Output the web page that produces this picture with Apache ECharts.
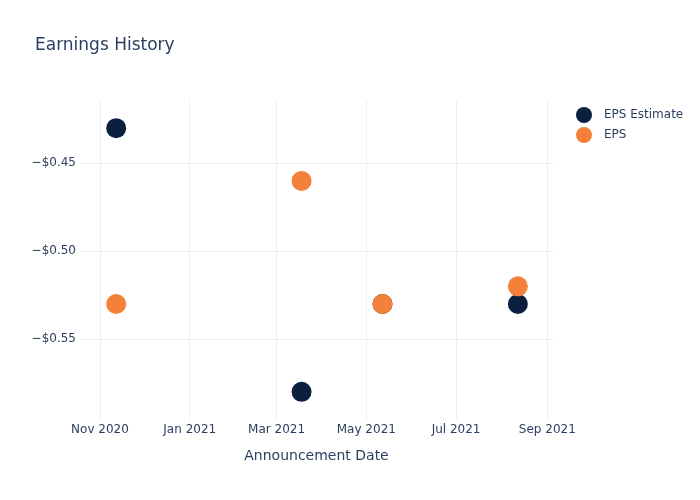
<!DOCTYPE html>
<html><head><meta charset="utf-8">
<script src="https://cdn.jsdelivr.net/npm/echarts@6/dist/echarts.min.js"></script>
<style>html,body{margin:0;padding:0;background:#fff}#c{width:700px;height:500px}</style>
</head><body><div id="c"></div>
<script>
var dates = ['2020-11-12', '2021-03-18', '2021-05-12', '2021-08-12'];
var epsEstimate = [-0.43, -0.58, -0.53, -0.53];
var eps = [-0.53, -0.46, -0.53, -0.52];
var months = ['Jan','Feb','Mar','Apr','May','Jun','Jul','Aug','Sep','Oct','Nov','Dec'];
var FONT = 'DejaVu Sans';
var TXT = '#2a3f5f';
var GRID = '#EBF0F8';
var NONE = 'rgba(0,0,0,0)';
function pairs(vals){ return dates.map(function(d,i){ return [d, vals[i]]; }); }
var chart = echarts.init(document.getElementById('c'));
chart.setOption({
  animation: false,
  backgroundColor: '#fff',
  title: { text: 'Earnings History', left: 30, top: 32, textStyle: { fontFamily: FONT, fontSize: 17, fontWeight: 'normal', color: TXT } },
  legend: {
    orient: 'vertical', left: 571, top: 102, itemGap: 4, itemWidth: 16, itemHeight: 16,
    icon: 'circle',
    textStyle: { fontFamily: FONT, fontSize: 12, color: TXT, padding: [0,0,0,7] },
    data: ['EPS Estimate', 'EPS']
  },
  grid: { left: 80, right: 147, top: 100, bottom: 80, containLabel: false },
  xAxis: {
    type: 'time',
    min: '2020-10-18T10:00:00', max: '2021-09-04T21:00:00',
    name: 'Announcement Date', nameLocation: 'middle', nameGap: 29,
    nameTextStyle: { fontFamily: FONT, fontSize: 14, color: TXT },
    axisLine: { show: false }, axisTick: { show: false },
    axisLabel: { fontFamily: FONT, fontSize: 12, color: TXT, margin: 4, showMinLabel: false, showMaxLabel: false,
      formatter: function(v){ var d = new Date(v); if (d.getDate() !== 1 || d.getMonth() % 2 === 1) return ''; return months[d.getMonth()] + ' ' + d.getFullYear(); } },
    splitLine: { show: true, lineStyle: { color: [NONE, GRID], width: 1 } }
  },
  yAxis: {
    type: 'value', min: -0.596, max: -0.414, splitNumber: 4,
    axisLine: { show: false }, axisTick: { show: false },
    axisLabel: { fontFamily: FONT, fontSize: 12, color: TXT, margin: 4, padding: [2,0,0,0], showMinLabel: false, showMaxLabel: false,
      formatter: function(v){ return (v < 0 ? '\u2212' : '') + '$' + Math.abs(v).toFixed(2); } },
    splitLine: { show: true, lineStyle: { color: [NONE, GRID, GRID, GRID], width: 1 } }
  },
  series: [
    { name: 'EPS Estimate', type: 'scatter', symbolSize: 20, itemStyle: { color: '#0B1F3F', opacity: 1 }, data: pairs(epsEstimate) },
    { name: 'EPS', type: 'scatter', symbolSize: 20, itemStyle: { color: '#F5803A', opacity: 1 }, data: pairs(eps) }
  ]
});
</script></body></html>
